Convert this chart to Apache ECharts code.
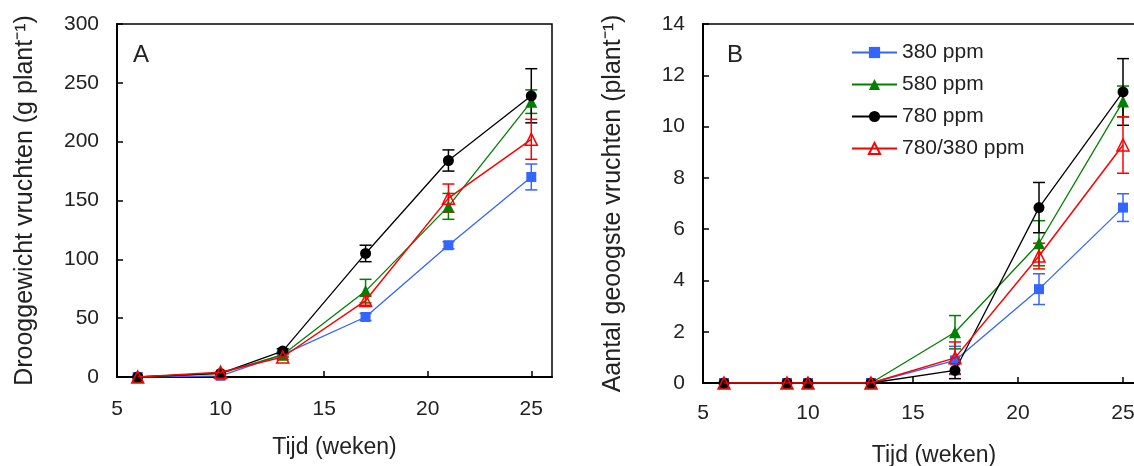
<!DOCTYPE html>
<html>
  <head>
    <meta charset="utf-8" />
    <title>Drooggewicht en aantal vruchten</title>
    <script src="https://cdn.jsdelivr.net/npm/echarts@6/dist/echarts.min.js"></script>
    <style>
      body { margin: 0; background: #fff; }
      #chart { width: 1134px; height: 466px; }
    </style>
  </head>
  <body>
    <div id="chart"></div>
    <script type="text/javascript">
      // --- data ---
      var weeksA = [6, 10, 13, 17, 21, 25];
      var weeksB = [6, 9, 10, 13, 17, 21, 25];
      var seriesNames = ["380 ppm", "580 ppm", "780 ppm", "780/380 ppm"];

      // A: drooggewicht vruchten (g plant-1)
      var dryA380 = [0, 1, 19, 51, 112, 170];
      var dryA580 = [0, 3, 19, 73, 145, 234];
      var dryA780 = [0, 3, 22, 105, 184, 239];
      var dryA780380 = [0, 4, 17, 65, 152, 202];
      var errA380 = [0, 0, 2, 3, 3, 11];
      var errA580 = [0, 0, 2, 10, 11, 10];
      var errA780 = [0, 0, 2, 7, 9, 23];
      var errA780380 = [0, 0, 2, 4, 12, 17];

      // B: aantal geoogste vruchten (plant-1)
      var numB380 = [0, 0, 0, 0, 0.88, 3.66, 6.84];
      var numB580 = [0, 0, 0, 0, 1.98, 5.45, 10.98];
      var numB780 = [0, 0, 0, 0, 0.49, 6.84, 11.35];
      var numB780380 = [0, 0, 0, 0, 0.98, 4.95, 9.28];
      var errB380 = [0, 0, 0, 0, 0.55, 0.6, 0.54];
      var errB580 = [0, 0, 0, 0, 0.65, 0.88, 0.6];
      var errB780 = [0, 0, 0, 0, 0.32, 0.98, 1.3];
      var errB780380 = [0, 0, 0, 0, 0.62, 0.5, 1.1];

      var colors = ["#3366ff", "#008000", "#000000", "#ff0000"];
      var symbols = ["rect", "triangle", "circle", "triangle"];
      var symbolSizes = [10, 12, 11, 12];
      var FONT = "Liberation Sans";

      function pairs(xs, ys) {
        var out = [];
        for (var i = 0; i < xs.length; i++) out.push([xs[i], ys[i]]);
        return out;
      }

      function lineSeries(k, idx, xs, ys) {
        var hollow = k === 3;
        return {
          name: seriesNames[k],
          type: "line",
          xAxisIndex: idx,
          yAxisIndex: idx,
          data: pairs(xs, ys),
          symbol: symbols[k],
          symbolSize: symbolSizes[k],
          z: 3 + k,
          lineStyle: { color: colors[k], width: hollow ? 1.5 : 1.3 },
          itemStyle: hollow
            ? { color: "rgba(255,255,255,0)", borderColor: colors[k], borderWidth: 1.5 }
            : { color: colors[k], borderWidth: 0 },
          emphasis: { disabled: true },
        };
      }

      // error bars: vertical line with caps, through the axis scales
      function errSeries(k, idx, xs, ys, es) {
        var d = [];
        for (var i = 0; i < xs.length; i++) {
          if (es[i] > 0) d.push([xs[i], ys[i], es[i]]);
        }
        return {
          name: "err " + idx + " " + k,
          type: "custom",
          xAxisIndex: idx,
          yAxisIndex: idx,
          z: 2,
          silent: true,
          data: d,
          renderItem: function (params, api) {
            var x = api.value(0), y = api.value(1), e = api.value(2);
            var top = api.coord([x, y + e]);
            var bot = api.coord([x, y - e]);
            var w = 6;
            var st = { stroke: colors[k], lineWidth: 1.5 };
            return {
              type: "group",
              children: [
                { type: "line", shape: { x1: top[0], y1: top[1], x2: bot[0], y2: bot[1] }, style: st },
                { type: "line", shape: { x1: top[0] - w, y1: top[1], x2: top[0] + w, y2: top[1] }, style: st },
                { type: "line", shape: { x1: bot[0] - w, y1: bot[1], x2: bot[0] + w, y2: bot[1] }, style: st },
              ],
            };
          },
        };
      }

      var axisLabelStyle = { color: "#222", fontFamily: FONT, fontSize: 21 };

      function xAxisOpt(idx, max, gap, margin) {
        return {
          type: "value",
          gridIndex: idx,
          min: 5,
          max: max,
          interval: 5,
          name: "Tijd (weken)",
          nameLocation: "middle",
          nameGap: gap,
          nameTextStyle: { color: "#222", fontFamily: FONT, fontSize: 23 },
          axisLine: { lineStyle: { color: "#000", width: 2 } },
          axisTick: { inside: true, length: 6, lineStyle: { color: "#000", width: 1.5 } },
          axisLabel: Object.assign({ margin: margin, showMaxLabel: false }, axisLabelStyle),
          splitLine: { show: false },
        };
      }

      function yAxisOpt(idx, max, interval, name, gap, margin) {
        return {
          type: "value",
          gridIndex: idx,
          min: 0,
          max: max,
          interval: interval,
          name: name,
          nameLocation: "middle",
          nameGap: gap,
          nameTextStyle: { color: "#222", fontFamily: FONT, fontSize: 25 },
          axisLine: { show: true, lineStyle: { color: "#000", width: 2 } },
          axisTick: { show: true, inside: true, length: 6, lineStyle: { color: "#000", width: 1.5 } },
          axisLabel: Object.assign({ margin: margin }, axisLabelStyle),
          splitLine: { show: false },
        };
      }

      var series = [];
      var dataA = [dryA380, dryA580, dryA780, dryA780380];
      var errA = [errA380, errA580, errA780, errA780380];
      var dataB = [numB380, numB580, numB780, numB780380];
      var errB = [errB380, errB580, errB780, errB780380];
      for (var k = 0; k < 4; k++) {
        series.push(errSeries(k, 0, weeksA, dataA[k], errA[k]));
        series.push(errSeries(k, 1, weeksB, dataB[k], errB[k]));
      }
      for (var k = 0; k < 4; k++) {
        series.push(lineSeries(k, 0, weeksA, dataA[k]));
        series.push(lineSeries(k, 1, weeksB, dataB[k]));
      }

      var myChart = echarts.init(document.getElementById("chart"), null, { renderer: "canvas" });
      var option = {
        animation: false,
        backgroundColor: "#fff",
        grid: [
          { left: 117, top: 24, width: 435, height: 353, show: true, borderColor: "#000", borderWidth: 1.5, outerBoundsMode: "none" },
          { left: 703, top: 24, width: 462, height: 359, show: true, borderColor: "#000", borderWidth: 1.5, outerBoundsMode: "none" },
        ],
        title: [
          { text: "A", left: 128, top: 38, textStyle: { fontFamily: FONT, fontSize: 24, fontWeight: "normal", color: "#222" } },
          { text: "B", left: 722, top: 38, textStyle: { fontFamily: FONT, fontSize: 24, fontWeight: "normal", color: "#222" } },
        ],
        legend: {
          data: seriesNames,
          orient: "vertical",
          left: 846,
          top: 37,
          itemWidth: 45,
          itemHeight: 14,
          itemGap: 11,
          textStyle: { fontFamily: FONT, fontSize: 21, color: "#222" },
          selectedMode: false,
        },
        xAxis: [xAxisOpt(0, 26, 59, 22), xAxisOpt(1, 27, 61, 20)],
        yAxis: [
          yAxisOpt(0, 300, 50, "Drooggewicht vruchten (g plant\u207B\u00B9)", 79, 18),
          yAxisOpt(1, 14, 2, "Aantal geoogste vruchten (plant\u207B\u00B9)", 77, 18),
        ],
        series: series,
      };
      option && myChart.setOption(option);
    </script>
  </body>
</html>
